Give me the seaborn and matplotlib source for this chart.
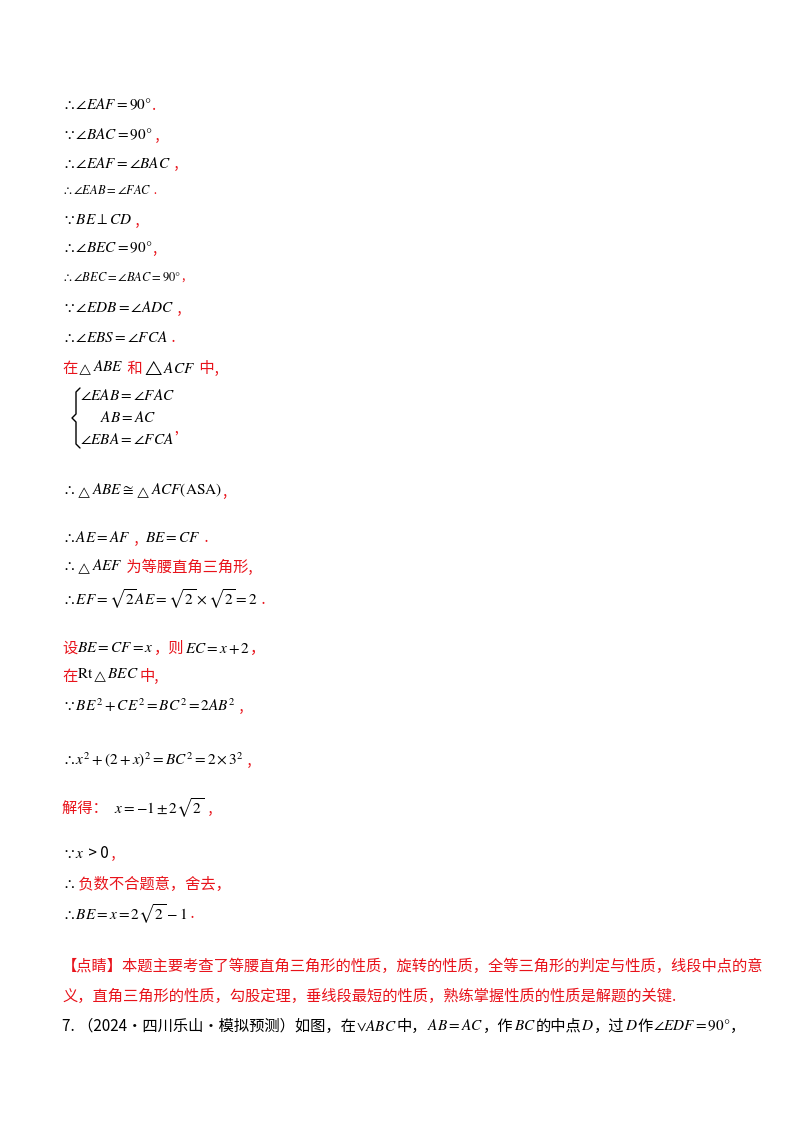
import matplotlib
matplotlib.use("Agg")
import matplotlib.pyplot as plt
import matplotlib.lines as mlines
import numpy as np
import seaborn as sns

sns.set_theme(style="white")
plt.rcParams['font.family'] = ['Noto Sans CJK SC', 'DejaVu Sans']
plt.rcParams['mathtext.fontset'] = 'stix'

R = '#e8131b'
K = 'black'
T = r'{}_\triangle '
# each line: (y_pixel, x_pixel, fontsize, [(text, color), ...])
lines = [
    (105, 62, 11, [(r'$\therefore\angle EAF=90°$', K), ('.', R)]),
    (135, 62, 11, [(r'$\because\angle BAC=90°$', K), (' ,', R)]),
    (163, 62, 11, [(r'$\therefore\angle EAF=\angle BAC$', K), (' ,', R)]),
    (190, 62, 9, [(r'$\therefore\angle EAB=\angle FAC$', K), (' .', R)]),
    (220, 62, 11, [(r'$\because BE\perp CD$', K), (' ,', R)]),
    (248, 62, 11, [(r'$\therefore\angle BEC=90°$', K), (',', R)]),
    (277, 62, 9, [(r'$\therefore\angle BEC=\angle BAC=90°$', K), (',', R)]),
    (308, 62, 11, [(r'$\because\angle EDB=\angle ADC$', K), (' ,', R)]),
    (338, 62, 11, [(r'$\therefore\angle EBS=\angle FCA$', K), (' .', R)]),
    (368, 62, 11, [('在', R), ('$' + T + r'ABE$', K), (' 和', R), (r'$\triangle ACF$', K), (' 中,', R)]),
    (396, 80, 11, [(r'$\angle EAB=\angle FAC$', K)]),
    (418, 100, 11, [(r'$AB=AC$', K)]),
    (440, 80, 11, [(r'$\angle EBA=\angle FCA$', K), ('’', R)]),
    (491, 62, 11, [(r'$\therefore' + T + r'ABE\cong' + T + r'ACF\left(\mathrm{ASA}\right)$', K), (',', R)]),
    (538, 62, 11, [(r'$\therefore AE=AF$', K), (' ,  ', R), (r'$BE=CF$', K), (' .', R)]),
    (567, 62, 11, [(r'$\therefore' + T + r'AEF$', K), (' 为等腰直角三角形,', R)]),
    (599, 62, 11, [(r'$\therefore EF=\sqrt{2}AE=\sqrt{2}\times\sqrt{2}=2$', K), (' .', R)]),
    (648, 62, 11, [('设', R), (r'$BE=CF=x$', K), ('，则', R), (r'$EC=x+2$', K), ('，', R)]),
    (676, 62, 11, [('在', R), (r'$\mathrm{Rt}' + T + r'BEC$', K), ('中,', R)]),
    (706, 62, 11, [(r'$\because BE^2+CE^2=BC^2=2AB^2$', K), (' ,', R)]),
    (760, 62, 11, [(r'$\therefore x^2+(2+x)^2=BC^2=2\times3^2$', K), (' ,', R)]),
    (808, 62, 11, [('解得：  ', R), (r'$x=-1\pm2\sqrt{2}$', K), (' ,', R)]),
    (853, 62, 11, [(r'$\because x$', K), (' > 0', K), (' ,', R)]),
    (884, 62, 11, [(r'$\therefore$', K), (' 负数不合题意，舍去，', R)]),
    (914, 62, 11, [(r'$\therefore BE=x=2\sqrt{2}-1$', K), (' .', R)]),
    (966, 62, 11, [('【点睛】本题主要考查了等腰直角三角形的性质，旋转的性质，全等三角形的判定与性质，线段中点的意', R)]),
    (996, 62, 11, [('义，直角三角形的性质，勾股定理，垂线段最短的性质，熟练掌握性质的性质是解题的关键.', R)]),
    (1026, 62, 11, [('7. （2024·四川乐山·模拟预测）如图，在', K), (r'$\vee ABC$', K), ('中，', K), (r'$AB=AC$', K),
                    ('，作', K), (r'$BC$', K), ('的中点', K), (r'$D$', K), ('，过', K), (r'$D$', K),
                    ('作', K), (r'$\angle EDF=90°$', K), ('，', K)]),
]

W, H = 800, 1132
fig = plt.figure(figsize=(W / 100, H / 100), dpi=100)
fig.patch.set_facecolor('white')
renderer = fig.canvas.get_renderer()

for y, x, fs, segs in lines:
    cx = x
    for txt, col in segs:
        t = fig.text(cx / W, 1 - y / H, txt, color=col, fontsize=fs, va='center', ha='left')
        bb = t.get_window_extent(renderer)
        cx += bb.width

# brace for the equation system
bx, top, bot = 76, 388, 448
mid = (top + bot) / 2
pts_y = np.array([top, top + 4, mid - 4, mid, mid + 4, bot - 4, bot])
pts_x = np.array([bx + 4, bx, bx, bx - 4, bx, bx, bx + 4])
fig.add_artist(mlines.Line2D(pts_x / W, 1 - pts_y / H, color='black', lw=1))

fig.savefig('out.png', dpi=100, facecolor='white')
